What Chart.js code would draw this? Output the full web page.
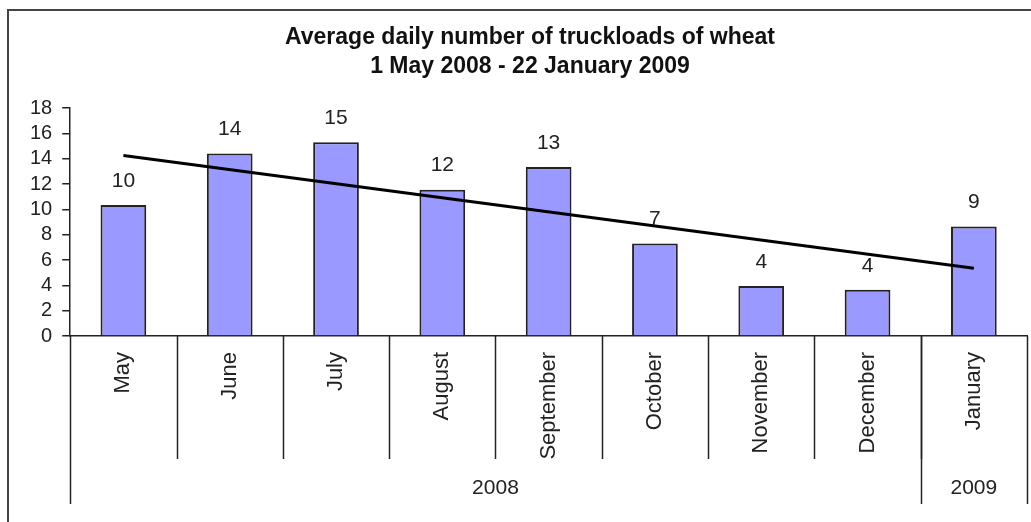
<!DOCTYPE html>
<html>
<head>
<meta charset="utf-8">
<script src="https://cdn.jsdelivr.net/npm/chart.js@4"></script>
<style>
  html, body { margin: 0; padding: 0; background: #fff; }
  canvas { display: block; }
</style>
</head>
<body>
<canvas id="barChart" width="1031" height="522"></canvas>
<script>
const months = ['May', 'June', 'July', 'August', 'September', 'October', 'November', 'December', 'January'];
const loads = [10.35, 14.4, 15.3, 11.55, 13.35, 7.3, 3.95, 3.65, 8.65];
const years = ['2008', '2009'];
const monthsPerYear = [8, 1];
// trendline ends (first and last month)
const trendEnds = [14.25, 5.35];
const yTicks = [0, 2, 4, 6, 8, 10, 12, 14, 16, 18];
const titleLines = ['Average daily number of truckloads of wheat', '1 May 2008 - 22 January 2009'];

const font = 'Liberation Sans, Arial, sans-serif';
const ink = '#222';

const trendData = months.map(function(m, i) {
  if (i === 0) return trendEnds[0];
  if (i === months.length - 1) return trendEnds[1];
  return null;
});

const extras = {
  id: 'extras',
  afterDatasetsDraw(chart) {
    const ctx = chart.ctx;
    const meta = chart.getDatasetMeta(1);
    ctx.save();
    ctx.fillStyle = ink;
    ctx.font = '21px ' + font;
    ctx.textAlign = 'center';
    ctx.textBaseline = 'middle';
    meta.data.forEach(function(bar, i) {
      ctx.fillText(String(Math.round(loads[i])), bar.x, bar.y - 24);
    });
    ctx.restore();
  },
  afterDraw(chart) {
    const ctx = chart.ctx;
    const x = chart.scales.x;
    const area = chart.chartArea;
    const step = x.getPixelForValue(1) - x.getPixelForValue(0);
    const edge = function(i) { return x.getPixelForValue(i) - step / 2; };
    ctx.save();

    // title, centred a little right of the plot like the original
    ctx.fillStyle = '#111';
    ctx.font = 'bold 23px ' + font;
    ctx.textAlign = 'center';
    ctx.textBaseline = 'middle';
    titleLines.forEach(function(t, k) {
      ctx.fillText(t, 530, 38 + k * 29);
    });

    ctx.strokeStyle = '#222';
    ctx.lineWidth = 1.5;

    // month separators
    for (let i = 1; i < months.length; i++) {
      const px = Math.round(edge(i)) + 0.5;
      ctx.beginPath();
      ctx.moveTo(px, area.bottom);
      ctx.lineTo(px, area.bottom + 123);
      ctx.stroke();
    }
    // year separators
    let start = 0;
    const yearEdges = [0];
    monthsPerYear.forEach(function(n) { start += n; yearEdges.push(start); });
    yearEdges.forEach(function(i) {
      const px = Math.round(edge(i)) + 0.5;
      ctx.beginPath();
      ctx.moveTo(px, area.bottom);
      ctx.lineTo(px, area.bottom + 168);
      ctx.stroke();
    });

    // month labels, reading upward
    ctx.fillStyle = ink;
    ctx.font = '22px ' + font;
    ctx.textAlign = 'right';
    ctx.textBaseline = 'middle';
    months.forEach(function(m, i) {
      ctx.save();
      ctx.translate(x.getPixelForValue(i), area.bottom + 16);
      ctx.rotate(-Math.PI / 2);
      ctx.fillText(m, 0, 0);
      ctx.restore();
    });

    // year labels
    ctx.font = '21px ' + font;
    ctx.textAlign = 'center';
    years.forEach(function(y, k) {
      const cx = (edge(yearEdges[k]) + edge(yearEdges[k + 1])) / 2;
      ctx.fillText(y, cx, area.bottom + 152);
    });

    // outer frame
    ctx.strokeStyle = '#444';
    ctx.lineWidth = 2;
    ctx.beginPath();
    ctx.moveTo(8, chart.height);
    ctx.lineTo(8, 10);
    ctx.lineTo(chart.width, 10);
    ctx.stroke();
    ctx.restore();
  }
};

const ctx = document.getElementById('barChart').getContext('2d');

new Chart(ctx, {
  type: 'bar',
  data: {
    labels: months,
    datasets: [
      {
        type: 'line',
        label: 'Trend',
        data: trendData,
        borderColor: '#000',
        borderWidth: 3,
        pointRadius: 0,
        spanGaps: true,
        fill: false,
        order: 0
      },
      {
        label: 'Truckloads',
        data: loads,
        backgroundColor: '#9999ff',
        borderColor: '#222',
        borderWidth: 2,
        categoryPercentage: 1,
        barPercentage: 0.43,
        order: 1
      }
    ]
  },
  options: {
    responsive: false,
    animation: false,
    devicePixelRatio: 1,
    layout: {
      padding: { left: 20, right: 4, top: 108, bottom: 186 }
    },
    plugins: {
      legend: { display: false },
      tooltip: { enabled: false },
      title: { display: false }
    },
    scales: {
      x: {
        offset: true,
        grid: { display: false, drawTicks: false },
        ticks: { display: false },
        border: { display: true, color: '#222', width: 1.5 }
      },
      y: {
        min: 0,
        max: 18,
        afterBuildTicks(scale) {
          scale.ticks = yTicks.map(function(v) { return { value: v }; });
        },
        grid: { drawOnChartArea: false, drawTicks: true, tickLength: 8, color: '#222', lineWidth: 1.5 },
        border: { display: true, color: '#222', width: 1.5 },
        ticks: { color: ink, padding: 10, autoSkip: false, font: { family: font, size: 20 } }
      }
    }
  },
  plugins: [extras]
});
</script>
</body>
</html>
